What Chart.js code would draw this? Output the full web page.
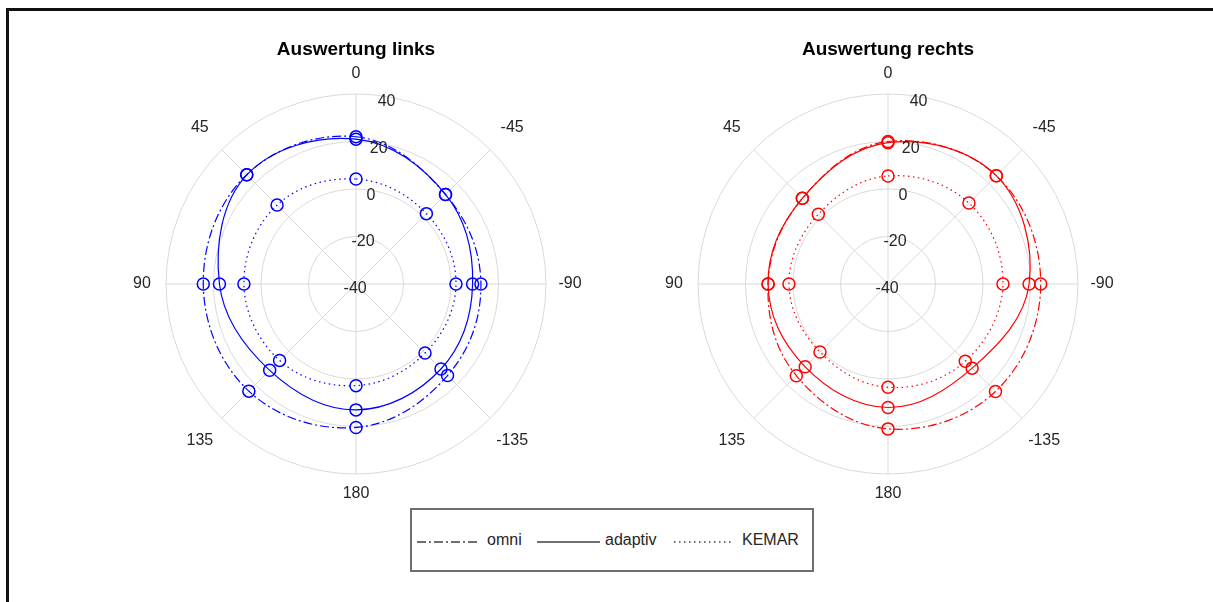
<!DOCTYPE html>
<html>
<head>
<meta charset="utf-8">
<script src="https://cdn.jsdelivr.net/npm/chart.js@4"></script>
<style>
  body { margin: 0; background: #fff; width: 1213px; height: 602px; overflow: hidden; position: relative;
         font-family: "Liberation Sans", Arial, sans-serif; }
  .frame { position: absolute; left: 6px; top: 8px; width: 1300px; height: 700px;
           border-top: 3px solid #111; border-left: 3px solid #111; }
  .plot { position: absolute; top: 10px; }
  #legend { position: absolute; left: 410px; top: 508px; width: 400px; height: 60px;
            border: 2px solid #6e6e6e; background: #fff; }
  #legend svg { position: absolute; top: 30px; }
  #legend span { position: absolute; top: 20px; font-size: 16px; color: #262626; line-height: 20px; }
</style>
</head>
<body>
<div class="frame"></div>
<canvas id="links" class="plot" width="460" height="500" style="left:126px"></canvas>
<canvas id="rechts" class="plot" width="460" height="500" style="left:658px"></canvas>
<div id="legend">
  <svg style="left:5px" width="62" height="4"><line x1="0" y1="2" x2="62" y2="2" stroke="#404040" stroke-width="1.5" stroke-dasharray="9 3 2 3"/></svg>
  <span style="left:75px">omni</span>
  <svg style="left:125px" width="63" height="4"><line x1="0" y1="2" x2="63" y2="2" stroke="#404040" stroke-width="1.5"/></svg>
  <span style="left:193px">adaptiv</span>
  <svg style="left:262px" width="58" height="4"><line x1="0" y1="2" x2="58" y2="2" stroke="#404040" stroke-width="1.5" stroke-dasharray="1.5 3.5"/></svg>
  <span style="left:330px">KEMAR</span>
</div>
<script>
// angles in clockwise order from the top, as the radar scale draws them
const angleLabels = ['0', '-45', '-90', '-135', '180', '135', '90', '45'];
const radialTicks = [-40, -20, 0, 20, 40];

const linksOmni    = [22.0, 13.3, 12.6, 14.5, 20.4, 23.8, 24.3, 25.1];
const linksAdaptiv = [21.0, 13.3,  9.1, 10.6, 13.0, 11.4, 17.5, 25.0];
const linksKemar   = [ 4.2,  1.9,  2.1,  1.1,  2.8,  5.5,  7.2,  7.0];

const rechtsOmni    = [20.0, 24.5, 24.3, 24.0, 21.0, 14.6, 10.5, 11.0];
const rechtsAdaptiv = [19.5, 24.5, 19.4, 10.1, 12.0,  9.3, 10.5, 11.0];
const rechtsKemar   = [ 5.5,  8.2,  8.4,  6.0,  3.5,  0.5,  1.7,  1.5];

const FONT = '"Liberation Sans", Arial, sans-serif';

// angle labels and radial tick labels, placed like the matlab polar axes
const polarLabels = {
    id: 'polarLabels',
    afterDraw(chart) {
        const r = chart.scales.r;
        const ctx = chart.ctx;
        ctx.save();
        ctx.font = '16px ' + FONT;
        ctx.fillStyle = '#262626';
        ctx.textAlign = 'center';
        ctx.textBaseline = 'middle';
        chart.data.labels.forEach((label, i) => {
            const a = i * Math.PI / 4;
            const d = r.drawingArea + 20 + 8 * Math.abs(Math.sin(2 * a)) + 4 * Math.abs(Math.sin(a));
            ctx.fillText(label, r.xCenter + d * Math.sin(a), r.yCenter - d * Math.cos(a));
        });
        const tilt = 9.5 * Math.PI / 180;
        radialTicks.forEach(v => {
            const d = r.getDistanceFromCenterForValue(v) - 5;
            ctx.fillText(String(v), r.xCenter + d * Math.sin(tilt), r.yCenter - d * Math.cos(tilt));
        });
        ctx.restore();
    }
};

function series(label, data, color, dash) {
    return {
        label,
        data,
        borderColor: color,
        borderWidth: 1.2,
        borderDash: dash,
        fill: false,
        backgroundColor: 'rgba(0,0,0,0)',
        tension: 0.375,
        pointRadius: 6,
        pointBorderWidth: 1.5,
        pointBorderColor: color,
        pointBackgroundColor: 'rgba(0,0,0,0)'
    };
}

function polarChart(id, title, omni, adaptiv, kemar, color) {
    new Chart(document.getElementById(id), {
        type: 'radar',
        plugins: [ polarLabels ],
        data: {
            labels: angleLabels,
            datasets: [
                series('omni', omni, color, [9, 3, 2, 3]),
                series('adaptiv', adaptiv, color, []),
                series('KEMAR', kemar, color, [1.5, 3.5])
            ]
        },
        options: {
            responsive: false,
            animation: false,
            devicePixelRatio: 1,
            layout: {
                padding: { top: 0, left: 40, right: 40, bottom: 36 }
            },
            plugins: {
                legend: { display: false },
                tooltip: { enabled: false },
                title: {
                    display: true,
                    text: title,
                    color: '#000',
                    font: { size: 19, weight: 'bold', family: FONT },
                    padding: { top: 28.6, bottom: 32.6 }
                }
            },
            scales: {
                r: {
                    min: -40,
                    max: 40,
                    ticks: { stepSize: 20, display: false },
                    pointLabels: { display: false },
                    grid: { circular: true, color: '#d9d9d9', lineWidth: 1 },
                    angleLines: { color: '#d9d9d9', lineWidth: 1 }
                }
            }
        }
    });
}

polarChart('links', 'Auswertung links', linksOmni, linksAdaptiv, linksKemar, '#0000ff');
polarChart('rechts', 'Auswertung rechts', rechtsOmni, rechtsAdaptiv, rechtsKemar, '#ff0000');
</script>
</body>
</html>
